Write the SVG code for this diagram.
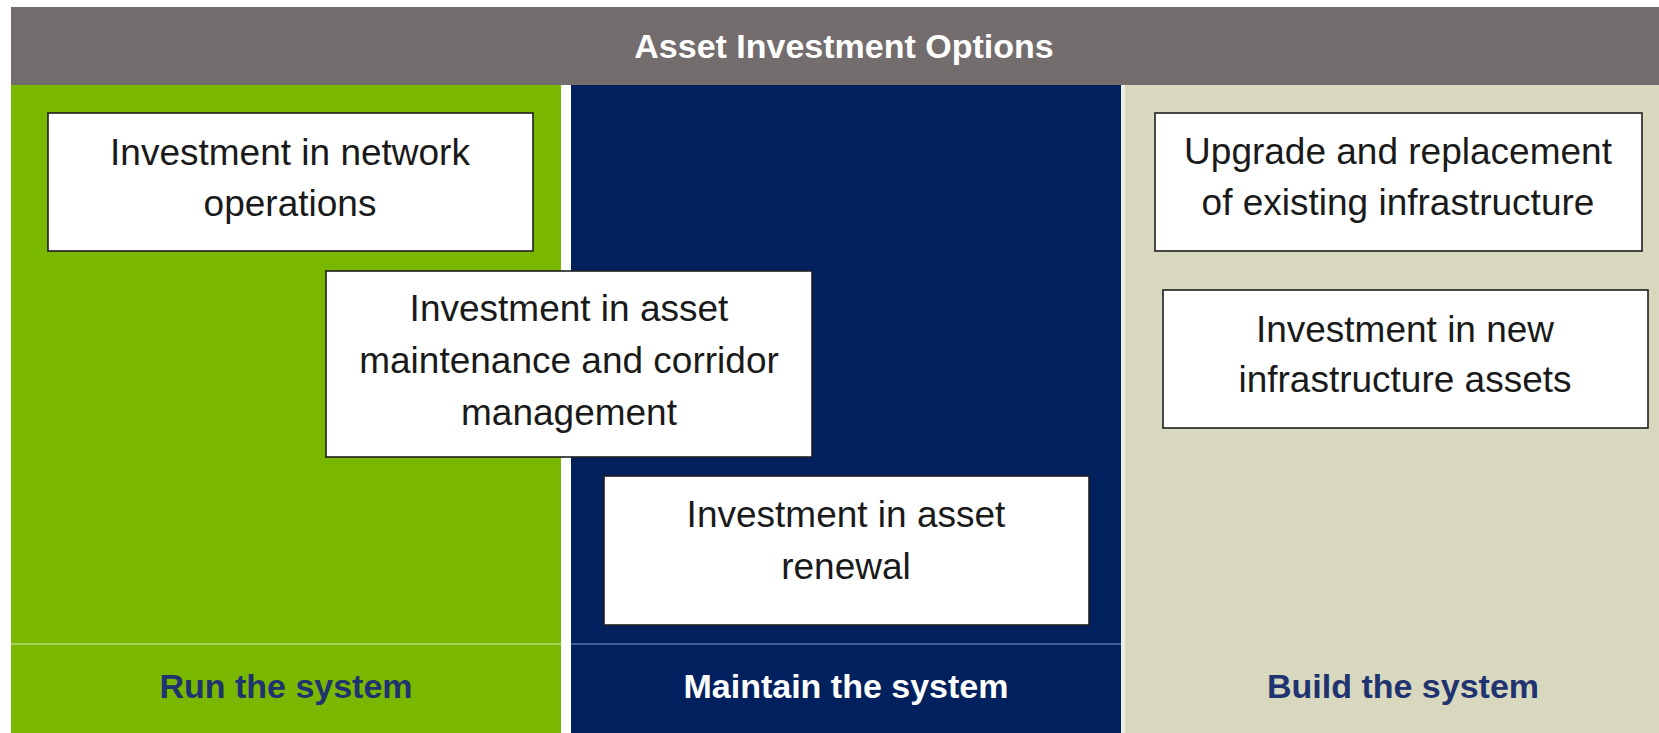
<svg xmlns="http://www.w3.org/2000/svg" width="1659" height="733" viewBox="0 0 1659 733">
<style>
.box{fill:#ffffff;stroke:#1e1e1e;stroke-width:1.6}
.bt{font-family:"Liberation Sans",Arial,sans-serif;font-size:37px;fill:#1a1a1a;text-anchor:middle}
.ft{font-family:"Liberation Sans",Arial,sans-serif;font-size:34px;font-weight:bold;text-anchor:middle}
</style>
<rect x="0" y="0" width="1659" height="733" fill="#ffffff"/>
<g id="header">
<rect x="11" y="7" width="1648" height="78" fill="#736d6e"/>
<text x="844" y="58" font-family="'Liberation Sans',Arial,sans-serif" font-size="34" font-weight="bold" fill="#ffffff" text-anchor="middle">Asset Investment Options</text>
</g>
<g id="col-run">
<rect x="11" y="85" width="550" height="648" fill="#7ab800"/>
<line x1="11" y1="644" x2="561" y2="644" stroke="#a3d255" stroke-width="2"/>
<text class="ft" x="286" y="698" fill="#1f3370">Run the system</text>
</g>
<g id="col-maintain">
<rect x="571" y="85" width="550" height="648" fill="#00215e"/>
<line x1="571" y1="644" x2="1121" y2="644" stroke="#3e5f9a" stroke-width="2"/>
<text class="ft" x="846" y="698" fill="#ffffff">Maintain the system</text>
</g>
<g id="col-build">
<rect x="1121" y="85" width="4" height="648" fill="#eeeee2"/>
<rect x="1125" y="85" width="534" height="648" fill="#d8d8be"/>
<text class="ft" x="1403" y="698" fill="#1f3370">Build the system</text>
</g>
<g id="node-network-operations">
<rect class="box" x="48" y="113" width="485" height="138"/>
<text class="bt" x="290" y="165">Investment in network</text>
<text class="bt" x="290" y="216">operations</text>
</g>
<g id="node-maintenance">
<rect class="box" x="326" y="271" width="486" height="186"/>
<text class="bt" x="569" y="321">Investment in asset</text>
<text class="bt" x="569" y="373">maintenance and corridor</text>
<text class="bt" x="569" y="425">management</text>
</g>
<g id="node-renewal">
<rect class="box" x="604" y="476" width="485" height="149"/>
<text class="bt" x="846" y="527">Investment in asset</text>
<text class="bt" x="846" y="579">renewal</text>
</g>
<g id="node-upgrade">
<rect class="box" x="1155" y="113" width="487" height="138"/>
<text class="bt" x="1398" y="164">Upgrade and replacement</text>
<text class="bt" x="1398" y="215">of existing infrastructure</text>
</g>
<g id="node-new-assets">
<rect class="box" x="1163" y="290" width="485" height="138"/>
<text class="bt" x="1405" y="342">Investment in new</text>
<text class="bt" x="1405" y="392">infrastructure assets</text>
</g>
<g id="connectors"></g>
</svg>
